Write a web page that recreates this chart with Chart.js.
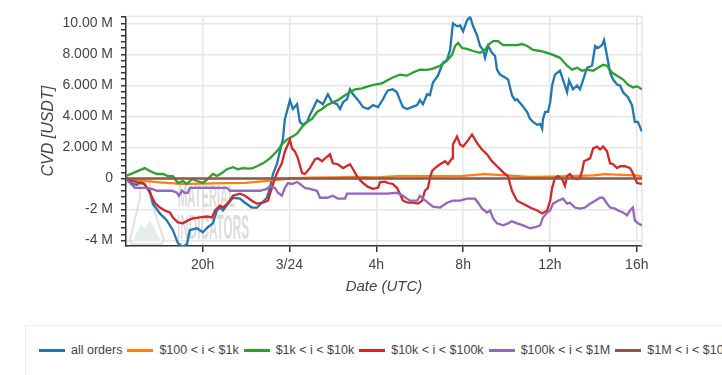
<!DOCTYPE html>
<html>
<head>
<meta charset="utf-8">
<title>CVD by order size</title>
<script src="https://cdn.jsdelivr.net/npm/chart.js@4.4.1/dist/chart.umd.min.js"></script>
<style>
    html, body { margin: 0; padding: 0; background: #fff; overflow: hidden; }
    #wrap { position: relative; width: 722px; height: 375px; overflow: hidden; font-family: "Liberation Sans", Arial, sans-serif; }
    #chartBox { position: absolute; left: 0; top: 0; width: 722px; height: 310px; }
    #legend {
        position: absolute; left: 25px; top: 325px; width: 820px; height: 60px;
        border: 1px solid #ececec; box-sizing: border-box;
        display: flex; align-items: center; padding: 0 0 10px 13px;
        white-space: nowrap; font-size: 12.5px; color: #444;
    }
    #legend .item { display: flex; align-items: center; margin-right: 5px; }
    #legend .swatch { display: inline-block; width: 26px; height: 3px; margin-right: 6px; }
</style>
</head>
<body>
<div id="wrap">
    <div id="chartBox"><canvas id="cvdChart"></canvas></div>
    <div id="legend"></div>
</div>
<script>
// Cumulative volume delta per order size bucket, hours since 3/23 00:00 UTC, values in M USDT

const seriesNames = ['all orders', '$100 < i < $1k', '$1k < i < $10k', '$10k < i < $100k', '$100k < i < $1M', '$1M < i < $10M'];
const seriesColors = ['#1f77b4', '#ff7f0e', '#2ca02c', '#d62728', '#9467bd', '#8c564b'];

const xTickValues = [20, 24, 28, 32, 36, 40];
const xTickLabels = ['20h', '3/24', '4h', '8h', '12h', '16h'];
const yMajorTicks = [-4, -2, 0, 2, 4, 6, 8, 10];
const yTickLabels = ['-4 M', '-2 M', '0', '2.000 M', '4.000 M', '6.000 M', '8.000 M', '10.00 M'];
const yMinorStep = 0.4;

const allOrders = [
    [16.47,0.03],[16.79,-0.35],[16.97,-0.41],[17.15,-0.16],[17.38,-0.48],[17.57,-0.79],[17.71,-1.62],[18.03,-2.25],
    [18.35,-2.70],[18.63,-3.33],[18.86,-4.16],[19.09,-4.41],[19.28,-4.22],[19.41,-3.33],[19.74,-3.21],[20.01,-3.46],
    [20.24,-3.14],[20.47,-2.89],[20.66,-2.06],[20.80,-1.87],[20.94,-2.06],[21.17,-1.62],[21.40,-1.24],[21.72,-1.30],
    [21.95,-1.56],[22.27,-1.87],[22.50,-1.87],[22.73,-1.56],[22.96,-1.24],[23.10,-0.60],[23.24,0.29],[23.42,0.92],
    [23.56,1.75],[23.70,2.57],[23.79,3.84],[23.88,4.29],[24.02,5.05],[24.16,4.48],[24.35,4.79],[24.48,3.65],
    [24.62,3.46],[24.81,3.65],[24.94,4.10],[25.08,4.48],[25.27,5.05],[25.41,4.92],[25.54,4.79],[25.77,5.43],
    [25.96,4.92],[26.19,4.79],[26.33,4.48],[26.47,4.92],[26.65,5.11],[26.79,5.75],[26.93,5.43],[27.16,5.05],
    [27.39,4.60],[27.62,4.48],[27.85,4.73],[28.08,4.60],[28.31,5.11],[28.40,5.37],[28.53,5.68],[28.76,5.75],
    [28.95,5.56],[29.09,5.05],[29.23,4.60],[29.41,4.48],[29.64,4.60],[29.88,4.73],[30.01,5.05],[30.15,4.79],
    [30.34,5.43],[30.47,5.37],[30.61,6.19],[30.84,6.63],[31.07,7.46],[31.26,7.65],[31.40,8.29],[31.53,10.00],
    [31.72,9.81],[31.86,9.87],[32.00,9.49],[32.18,10.19],[32.32,10.44],[32.46,9.81],[32.64,9.24],[32.78,8.54],
    [32.92,8.29],[33.01,7.78],[33.15,8.54],[33.33,8.10],[33.47,7.90],[33.56,7.02],[33.70,6.70],[33.93,6.51],
    [34.07,6.38],[34.25,5.37],[34.39,5.05],[34.48,5.11],[34.71,4.73],[34.95,4.29],[35.08,3.84],[35.22,3.65],
    [35.41,3.46],[35.55,3.52],[35.64,3.21],[35.68,3.84],[35.78,4.29],[35.91,4.29],[36.01,4.92],[36.10,6.00],
    [36.23,6.70],[36.46,6.95],[36.60,6.38],[36.79,5.56],[36.88,6.32],[37.06,5.75],[37.25,6.00],[37.38,5.75],
    [37.52,6.32],[37.71,7.14],[37.94,7.27],[38.08,8.54],[38.21,8.41],[38.40,8.60],[38.49,8.92],[38.63,7.90],
    [38.77,6.83],[38.91,6.38],[39.09,6.06],[39.23,6.00],[39.37,5.56],[39.59,5.24],[39.78,4.73],[39.91,3.65],
    [40.05,3.65],[40.24,3.02]
];

const orders100to1k = [
    [16.47,0.00],[17.00,-0.10],[18.00,-0.25],[19.00,-0.35],[20.00,-0.33],[21.00,-0.30],[22.00,-0.28],[23.00,-0.15],
    [24.00,0.00],[25.00,0.05],[26.00,0.08],[27.00,0.10],[28.00,0.08],[29.00,0.15],[30.00,0.15],[31.00,0.15],
    [32.00,0.17],[33.00,0.28],[34.00,0.20],[35.00,0.10],[36.00,0.12],[37.00,0.15],[38.00,0.20],[38.50,0.28],
    [39.00,0.25],[40.00,0.20],[40.24,0.12]
];

const orders1kto10k = [
    [16.47,0.16],[16.79,0.35],[17.11,0.54],[17.33,0.67],[17.57,0.48],[17.89,0.29],[18.17,0.29],[18.40,0.16],
    [18.63,0.16],[18.86,-0.29],[19.09,-0.16],[19.28,-0.35],[19.51,-0.03],[19.74,-0.16],[20.01,-0.29],[20.24,-0.03],
    [20.47,0.29],[20.66,0.16],[20.89,0.35],[21.12,0.60],[21.40,0.73],[21.63,0.60],[21.86,0.67],[22.09,0.64],
    [22.27,0.65],[22.50,0.79],[22.78,0.98],[23.10,1.30],[23.42,1.75],[23.65,2.19],[23.88,2.51],[24.12,2.70],
    [24.35,2.89],[24.58,3.33],[24.81,3.65],[25.04,3.84],[25.27,4.29],[25.50,4.48],[25.73,4.73],[26.00,4.92],
    [26.23,5.05],[26.56,5.37],[26.79,5.56],[27.02,5.75],[27.34,5.81],[27.62,5.94],[27.94,6.06],[28.26,6.13],
    [28.49,6.32],[28.76,6.51],[29.09,6.70],[29.41,6.63],[29.69,6.83],[30.01,7.02],[30.34,7.00],[30.61,7.08],
    [30.94,7.27],[31.26,7.59],[31.49,7.97],[31.63,8.54],[31.77,8.73],[31.95,8.41],[32.18,8.35],[32.46,8.22],
    [32.78,8.10],[33.01,8.29],[33.15,8.60],[33.38,8.86],[33.61,8.86],[33.84,8.60],[34.07,8.60],[34.30,8.60],
    [34.48,8.60],[34.71,8.67],[34.95,8.54],[35.22,8.29],[35.55,8.22],[35.87,8.10],[36.14,7.97],[36.46,7.78],
    [36.79,7.27],[37.02,7.02],[37.25,7.14],[37.48,6.95],[37.71,7.02],[37.99,6.95],[38.21,7.14],[38.45,7.33],
    [38.63,7.27],[38.86,6.83],[39.09,6.63],[39.37,6.38],[39.59,6.06],[39.82,5.87],[40.01,5.94],[40.24,5.75]
];

const orders10kto100k = [
    [16.47,0.03],[16.79,-0.16],[17.11,-0.29],[17.33,-0.35],[17.57,-0.92],[17.80,-1.56],[18.03,-1.87],[18.26,-2.06],
    [18.49,-2.19],[18.63,-2.51],[18.86,-2.83],[19.09,-2.89],[19.32,-2.70],[19.55,-2.57],[19.88,-2.51],[20.20,-2.45],
    [20.43,-2.51],[20.57,-2.06],[20.80,-1.75],[20.94,-1.87],[21.17,-1.56],[21.40,-1.11],[21.72,-0.98],[21.95,-1.11],
    [22.27,-1.43],[22.50,-1.62],[22.78,-1.56],[23.01,-1.43],[23.19,-0.60],[23.33,0.03],[23.47,0.48],[23.65,0.98],
    [23.79,1.75],[23.93,2.19],[24.02,2.51],[24.12,1.94],[24.25,1.75],[24.39,1.30],[24.58,0.35],[24.71,0.29],
    [24.94,0.67],[25.18,1.24],[25.31,1.30],[25.50,1.11],[25.64,1.30],[25.87,1.56],[26.00,0.98],[26.23,0.92],
    [26.47,0.67],[26.79,0.92],[26.93,0.60],[27.16,0.03],[27.39,-0.29],[27.62,-0.54],[27.85,-0.67],[28.08,-0.60],
    [28.17,-0.25],[28.40,-0.20],[28.53,-0.29],[28.76,-0.35],[28.95,-0.60],[29.09,-0.98],[29.23,-1.43],[29.46,-1.56],
    [29.69,-1.56],[29.92,-1.62],[30.11,-1.43],[30.24,-0.79],[30.38,-0.60],[30.47,0.03],[30.57,0.48],[30.70,0.67],
    [30.94,0.92],[31.17,1.11],[31.30,0.92],[31.49,1.30],[31.53,2.19],[31.72,2.70],[31.86,2.19],[32.00,2.06],
    [32.18,2.38],[32.41,2.83],[32.55,2.51],[32.69,2.19],[32.87,1.87],[33.10,1.56],[33.33,1.11],[33.56,0.79],
    [33.79,0.48],[33.93,0.29],[34.07,0.16],[34.16,-0.35],[34.25,-0.79],[34.48,-1.43],[34.76,-1.62],[35.08,-1.87],
    [35.41,-2.06],[35.64,-2.25],[35.87,-2.06],[36.01,-1.43],[36.10,-0.60],[36.23,0.03],[36.37,0.16],[36.56,-0.03],
    [36.69,-0.48],[36.79,0.16],[36.92,0.29],[37.06,0.03],[37.25,-0.03],[37.38,0.03],[37.48,0.48],[37.57,1.11],
    [37.85,1.30],[37.99,1.94],[38.17,2.06],[38.31,1.87],[38.45,2.06],[38.63,1.75],[38.77,0.98],[38.91,0.92],
    [39.09,0.67],[39.23,0.79],[39.46,0.79],[39.69,0.67],[39.82,0.35],[40.01,-0.29],[40.24,-0.35]
];

const orders100kto1M = [
    [16.47,-0.03],[16.65,-0.29],[16.88,-0.60],[17.11,-0.60],[17.43,-0.60],[17.66,-0.67],[17.89,-0.79],[18.17,-0.79],
    [18.58,-0.79],[18.82,-0.92],[18.91,-1.11],[19.05,-0.79],[19.18,-0.92],[19.32,-0.92],[19.41,-0.60],[19.74,-0.60],
    [20.20,-0.60],[20.66,-0.60],[21.12,-0.60],[21.26,-0.79],[21.72,-0.79],[22.32,-0.79],[22.64,-0.79],[22.96,-0.67],
    [23.10,-0.48],[23.33,-0.60],[23.47,-0.92],[23.65,-1.11],[23.70,-0.92],[23.79,-0.60],[23.93,-0.29],[24.12,-0.35],
    [24.35,-0.22],[24.48,-0.35],[24.71,-0.60],[24.94,-0.67],[25.27,-0.79],[25.41,-1.24],[25.73,-1.24],[26.00,-1.11],
    [26.23,-1.30],[26.56,-1.30],[26.65,-0.98],[26.93,-0.98],[27.39,-0.98],[27.85,-0.98],[28.17,-0.98],[28.49,-0.98],
    [28.95,-0.92],[29.23,-1.11],[29.55,-1.43],[29.88,-1.43],[30.01,-1.11],[30.15,-1.30],[30.38,-1.56],[30.61,-1.81],
    [30.94,-1.87],[31.26,-1.56],[31.53,-1.43],[31.86,-1.43],[32.18,-1.30],[32.55,-1.30],[32.69,-1.56],[32.87,-1.94],
    [33.10,-2.19],[33.24,-2.06],[33.38,-2.57],[33.56,-2.89],[33.84,-3.02],[34.07,-2.89],[34.25,-2.76],[34.48,-2.89],
    [34.76,-3.02],[35.08,-3.21],[35.32,-3.14],[35.55,-3.02],[35.68,-2.51],[35.87,-2.19],[36.01,-2.06],[36.14,-1.62],
    [36.37,-1.43],[36.60,-1.30],[36.79,-1.62],[36.92,-1.56],[37.15,-1.87],[37.38,-1.94],[37.62,-1.87],[37.85,-1.62],
    [38.08,-1.43],[38.31,-1.24],[38.45,-1.24],[38.63,-1.62],[38.77,-1.87],[39.00,-1.94],[39.14,-2.06],[39.37,-2.19],
    [39.55,-2.38],[39.69,-2.06],[39.82,-1.87],[39.91,-2.70],[40.05,-2.89],[40.24,-3.02]
];

const orders1Mto10M = [
    [16.47,0.00],[20.00,0.00],[24.00,0.00],[28.00,0.00],[32.00,0.00],[36.00,0.00],[40.24,0.00]
];

const seriesData = [allOrders, orders100to1k, orders1kto10k, orders10kto100k, orders100kto1M, orders1Mto10M];

const X_MIN = 16.47;
const X_MAX = 40.24;
const Y_MIN = -4.35;
const Y_MAX = 10.45;

const FONT = '"Liberation Sans", Arial, sans-serif';
const TEXT_COLOR = '#444';
const GRID_COLOR = '#e6e6e6';
const AXIS_COLOR = '#333';

const isMajor = (v) => yMajorTicks.some(t => Math.abs(t - v) < 1e-6);

// faint "Material Indicators" watermark behind the lines
function fitText(ctx, text, x, y, w, h) {
    ctx.save();
    ctx.font = `bold 20px "Liberation Sans Narrow", ${FONT}`;
    const m = ctx.measureText(text).width;
    ctx.translate(x, y + h);
    ctx.scale(w / m, h / 14.4);
    ctx.fillText(text, 0, 0);
    ctx.restore();
}

const watermark = {
    id: 'watermark',
    beforeDatasetsDraw(chart) {
        const { ctx, chartArea: ca } = chart;
        const l = ca.left, b = ca.bottom;
        ctx.save();
        // flask
        ctx.beginPath();
        ctx.moveTo(l + 14, b - 64);
        ctx.lineTo(l + 24, b - 64);
        ctx.lineTo(l + 24, b - 48);
        ctx.lineTo(l + 38, b - 6);
        ctx.lineTo(l + 36, b - 2);
        ctx.lineTo(l + 6, b - 2);
        ctx.lineTo(l + 4, b - 6);
        ctx.lineTo(l + 14, b - 48);
        ctx.closePath();
        ctx.strokeStyle = '#e2e2e2';
        ctx.lineWidth = 2;
        ctx.stroke();
        ctx.beginPath();
        ctx.moveTo(l + 7, b - 5);
        ctx.lineTo(l + 15, b - 22);
        ctx.lineTo(l + 19, b - 17);
        ctx.lineTo(l + 24, b - 26);
        ctx.lineTo(l + 35, b - 5);
        ctx.closePath();
        ctx.fillStyle = '#e4eeec';
        ctx.fill();
        ctx.fillStyle = '#dcdcdc';
        fitText(ctx, 'MATERIAL', l + 52, b - 61, 57, 22);
        fitText(ctx, 'INDICATORS', l + 51, b - 32, 72, 25);
        // light frame on top and right, as in the source
        ctx.strokeStyle = GRID_COLOR;
        ctx.lineWidth = 1.5;
        ctx.beginPath();
        ctx.moveTo(ca.left, ca.top);
        ctx.lineTo(ca.right, ca.top);
        ctx.lineTo(ca.right, ca.bottom);
        ctx.stroke();
        ctx.restore();
    }
};

const ctx = document.getElementById('cvdChart').getContext('2d');
new Chart(ctx, {
    type: 'line',
    data: {
        datasets: seriesData.map((points, i) => ({
            label: seriesNames[i],
            data: points.map(([x, y]) => ({ x, y })),
            borderColor: seriesColors[i],
            backgroundColor: seriesColors[i],
            borderWidth: 2.3,
            pointRadius: 0,
            tension: 0,
            fill: false,
            order: seriesData.length - 1 - i
        }))
    },
    options: {
        responsive: true,
        maintainAspectRatio: false,
        animation: false,
        layout: { padding: { left: 0, right: 80, top: 13, bottom: 0 } },
        plugins: {
            legend: { display: false },
            tooltip: { enabled: false }
        },
        scales: {
            x: {
                type: 'linear',
                min: X_MIN,
                max: X_MAX,
                afterBuildTicks: (scale) => {
                    scale.ticks = xTickValues.map(value => ({ value }));
                },
                afterFit: (scale) => { scale.height = 64; },
                ticks: {
                    autoSkip: false,
                    maxRotation: 0,
                    padding: 5,
                    color: TEXT_COLOR,
                    font: { family: FONT, size: 14 },
                    callback: (value) => xTickLabels[xTickValues.indexOf(value)] ?? ''
                },
                grid: {
                    color: GRID_COLOR,
                    lineWidth: 1.5,
                    tickColor: AXIS_COLOR,
                    tickLength: 6
                },
                border: { display: true, color: AXIS_COLOR, width: 1.5 },
                title: {
                    display: true,
                    text: 'Date (UTC)',
                    color: TEXT_COLOR,
                    font: { family: FONT, size: 15, style: 'italic' },
                    padding: { top: 0, bottom: 14 }
                }
            },
            y: {
                type: 'linear',
                min: Y_MIN,
                max: Y_MAX,
                afterBuildTicks: (scale) => {
                    const ticks = [];
                    const first = Math.ceil(Y_MIN / yMinorStep);
                    const last = Math.floor(Y_MAX / yMinorStep);
                    for (let i = first; i <= last; i++) ticks.push({ value: +(i * yMinorStep).toFixed(1) });
                    scale.ticks = ticks;
                },
                afterFit: (scale) => { scale.width = 126; },
                ticks: {
                    autoSkip: false,
                    padding: 8,
                    color: TEXT_COLOR,
                    font: { family: FONT, size: 14 },
                    callback: (value) => {
                        const idx = yMajorTicks.findIndex(t => Math.abs(t - value) < 1e-6);
                        return idx >= 0 ? yTickLabels[idx] : '';
                    }
                },
                grid: {
                    color: (c) => (c.tick && isMajor(c.tick.value)) ? GRID_COLOR : 'rgba(0,0,0,0)',
                    lineWidth: 1.5,
                    tickColor: AXIS_COLOR,
                    tickLength: 5
                },
                border: { display: true, color: AXIS_COLOR, width: 1.5 },
                title: {
                    display: true,
                    text: 'CVD [USDT]',
                    color: TEXT_COLOR,
                    font: { family: FONT, size: 16, style: 'italic' },
                    padding: { top: 39, bottom: 0 }
                }
            }
        }
    },
    plugins: [watermark]
});

// legend row, clipped at the right edge like the source
const legendEl = document.getElementById('legend');
seriesNames.forEach((name, i) => {
    const item = document.createElement('span');
    item.className = 'item';
    const sw = document.createElement('span');
    sw.className = 'swatch';
    sw.style.background = seriesColors[i];
    item.appendChild(sw);
    item.appendChild(document.createTextNode(name));
    legendEl.appendChild(item);
});
</script>
</body>
</html>
